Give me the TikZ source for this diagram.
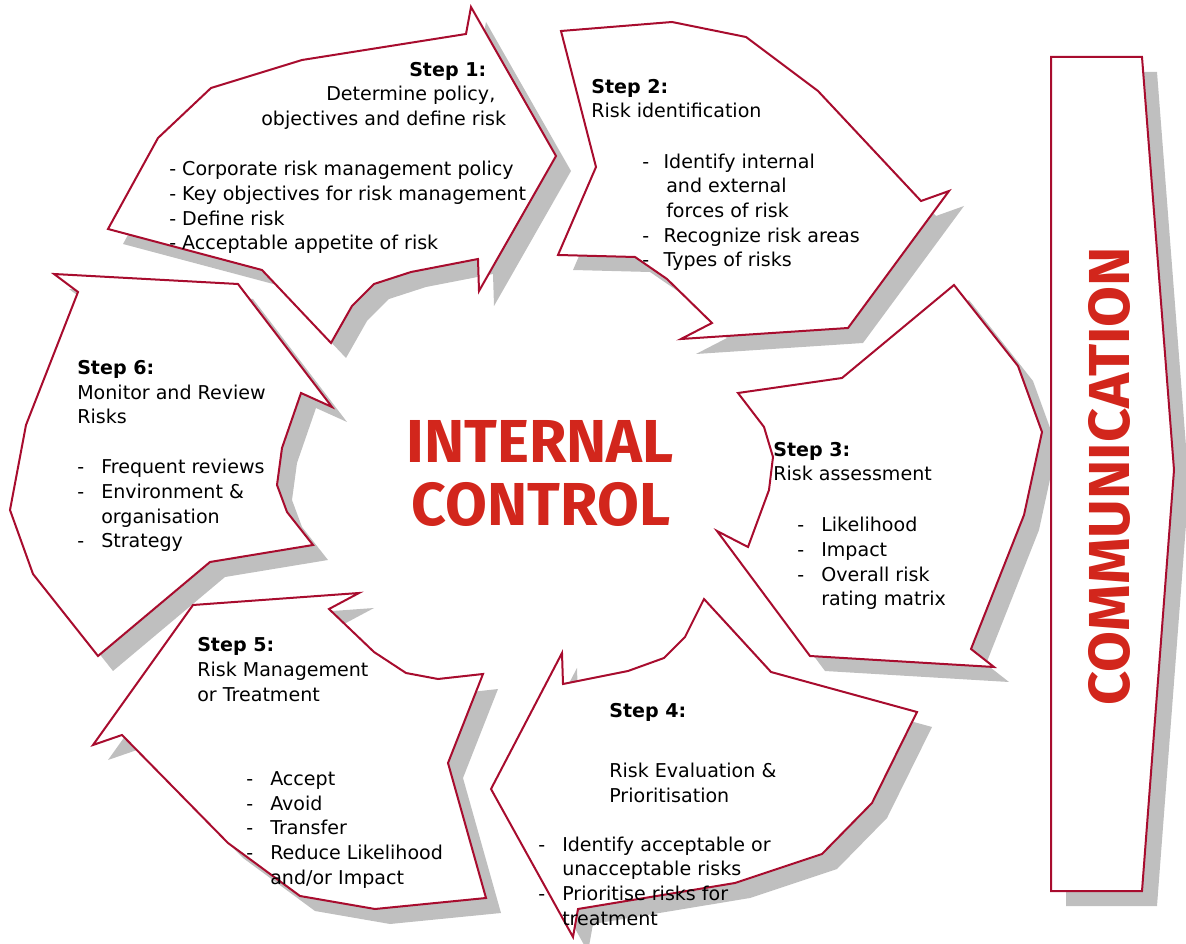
\documentclass[tikz,border=0pt]{standalone}
\usepackage{fontspec}
\setmainfont{DejaVu Sans}
\newfontfamily\headfont{Fira Sans}
\usetikzlibrary{positioning}

\definecolor{edgered}{RGB}{168,12,46}
\definecolor{titlered}{RGB}{210,38,28}
\definecolor{shadowgray}{RGB}{191,191,191}

\newcommand{\dashitem}[2][18pt]{\makebox[#1][l]{-}#2}
\newcommand{\hang}{\hspace*{18pt}}

\begin{document}
\begin{tikzpicture}[
    x=0.75pt, y=-0.75pt,
    stepshape/.style={draw=edgered, fill=white, line width=1.5pt},
    stepshadow/.style={fill=shadowgray, shift={(15,15)}},
    steptext/.style={anchor=base west, inner sep=0pt, align=left,
      font=\fontsize{14.3}{18.5}\selectfont},
    centretext/.style={anchor=base, inner sep=0pt, text=titlered,
      font=\fontsize{45.5}{47}\headfont\bfseries}
]
\useasboundingbox (0,0) rectangle (1186,944);

% shadows of all pieces first
\fill[stepshadow] (471,7) -- (466,34) -- (302,60) -- (211,88) -- (158,138) -- (108,229) -- (262,270) -- (331,343) -- (352,306) -- (374,284) -- (411,272) -- (478,259) -- (479,291) -- (556,156) -- cycle;
\fill[stepshadow] (561,31) -- (672,22) -- (746,37) -- (818,91) -- (921,201) -- (949,191) -- (848,328) -- (681,339) -- (712,323) -- (667,279) -- (635,257) -- (558,255) -- (596,167) -- cycle;
\fill[stepshadow] (954,285) -- (1018,366) -- (1042,432) -- (1024,515) -- (971,649) -- (994,667) -- (810,656) -- (717,531) -- (748,547) -- (769,490) -- (773,457) -- (764,427) -- (738,393) -- (842,378) -- cycle;
\fill[stepshadow] (704,599) -- (771,672) -- (917,712) -- (872,803) -- (822,854) -- (735,883) -- (578,909) -- (573,937) -- (491,789) -- (562,653) -- (563,684) -- (628,671) -- (664,658) -- (685,637) -- cycle;
\fill[stepshadow] (193,605) -- (359,593) -- (329,609) -- (374,652) -- (406,673) -- (438,679) -- (483,674) -- (448,763) -- (486,898) -- (375,909) -- (300,896) -- (228,843) -- (122,735) -- (93,745) -- cycle;
\fill[stepshadow] (54,274) -- (238,284) -- (332,407) -- (301,393) -- (282,448) -- (277,485) -- (287,512) -- (313,545) -- (210,562) -- (98,656) -- (33,574) -- (10,510) -- (26,425) -- (78,292) -- cycle;
\fill[stepshadow] (1051,57) -- (1142,57) -- (1174,470) -- (1142,891) -- (1051,891) -- cycle;

% the pieces
\draw[stepshape] (471,7) -- (466,34) -- (302,60) -- (211,88) -- (158,138) -- (108,229) -- (262,270) -- (331,343) -- (352,306) -- (374,284) -- (411,272) -- (478,259) -- (479,291) -- (556,156) -- cycle;
\draw[stepshape] (561,31) -- (672,22) -- (746,37) -- (818,91) -- (921,201) -- (949,191) -- (848,328) -- (681,339) -- (712,323) -- (667,279) -- (635,257) -- (558,255) -- (596,167) -- cycle;
\draw[stepshape] (954,285) -- (1018,366) -- (1042,432) -- (1024,515) -- (971,649) -- (994,667) -- (810,656) -- (717,531) -- (748,547) -- (769,490) -- (773,457) -- (764,427) -- (738,393) -- (842,378) -- cycle;
\draw[stepshape] (704,599) -- (771,672) -- (917,712) -- (872,803) -- (822,854) -- (735,883) -- (578,909) -- (573,937) -- (491,789) -- (562,653) -- (563,684) -- (628,671) -- (664,658) -- (685,637) -- cycle;
\draw[stepshape] (193,605) -- (359,593) -- (329,609) -- (374,652) -- (406,673) -- (438,679) -- (483,674) -- (448,763) -- (486,898) -- (375,909) -- (300,896) -- (228,843) -- (122,735) -- (93,745) -- cycle;
\draw[stepshape] (54,274) -- (238,284) -- (332,407) -- (301,393) -- (282,448) -- (277,485) -- (287,512) -- (313,545) -- (210,562) -- (98,656) -- (33,574) -- (10,510) -- (26,425) -- (78,292) -- cycle;
\draw[stepshape] (1051,57) -- (1142,57) -- (1174,470) -- (1142,891) -- (1051,891) -- cycle;

% step 1
\node[steptext] (s1title) at (409,77) {\textbf{Step 1:}};
\node[steptext] (s1head) at (326,101) {Determine policy,};
\node[steptext] (s1head2) at (261,126) {objectives and define risk};
\node[steptext] (s1list) at (169,250) {- Corporate risk management policy\\- Key objectives for risk management\\- Define risk\\- Acceptable appetite of risk};
% step 2
\node[steptext] (s2title) at (591,118) {\textbf{Step 2:}\\Risk identification};
\node[steptext] (s2list) at (642,267) {\dashitem[16pt]{Identify internal}\\\hang and external\\\hang forces of risk\\\dashitem[16pt]{Recognize risk areas}\\\dashitem[16pt]{Types of risks}};
% step 3
\node[steptext] (s3title) at (773,481) {\textbf{Step 3:}\\Risk assessment};
\node[steptext] (s3list) at (797,606) {\dashitem{Likelihood}\\\dashitem{Impact}\\\dashitem{Overall risk}\\\hang rating matrix};
% step 4
\node[steptext] (s4title) at (609,718) {\textbf{Step 4:}};
\node[steptext] (s4head) at (609,802) {Risk Evaluation \&\\Prioritisation};
\node[steptext] (s4list) at (538,925) {\dashitem{Identify acceptable or}\\\hang unacceptable risks\\\dashitem{Prioritise risks for}\\\hang treatment};
% step 5
\node[steptext] (s5title) at (197,701) {\textbf{Step 5:}\\Risk Management\\or Treatment};
\node[steptext] (s5list) at (246,884) {\dashitem{Accept}\\\dashitem{Avoid}\\\dashitem{Transfer}\\\dashitem{Reduce Likelihood}\\\hang and/or Impact};
% step 6
\node[steptext] (s6title) at (77,424) {\textbf{Step 6:}\\Monitor and Review\\Risks};
\node[steptext] (s6list) at (77,548) {\dashitem{Frequent reviews}\\\dashitem{Environment \&}\\\hang organisation\\\dashitem{Strategy}};

% centre and side band
\node[centretext] (internal) at (540,463) {INTERNAL};
\node[centretext] (control) at (541,526) {CONTROL};
\node[rotate=90, inner sep=0pt, text=titlered] (comm) at (1109,476)
  {\resizebox*{343.5pt}{31.5pt}{\headfont\bfseries COMMUNICATION}};
\end{tikzpicture}
\end{document}
